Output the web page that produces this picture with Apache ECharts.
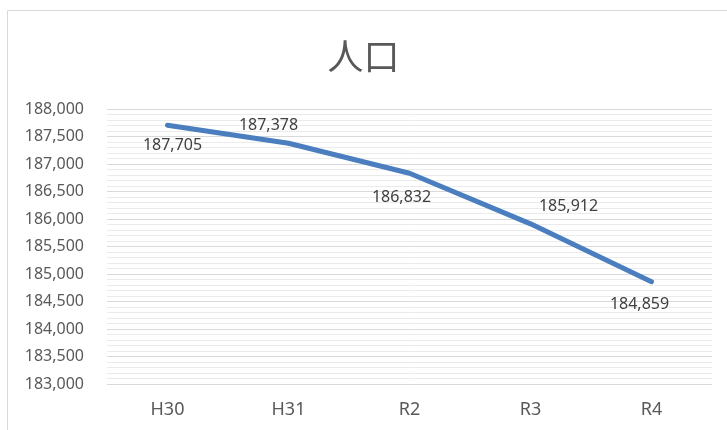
<!DOCTYPE html>
<html>
<head>
<meta charset="utf-8">
<script src="https://cdn.jsdelivr.net/npm/echarts@6/dist/echarts.min.js"></script>
<style>
  html, body { margin: 0; padding: 0; background: #fff; }
  #chart { width: 727px; height: 430px; }
</style>
</head>
<body>
<div id="chart"></div>
<script>
const years = ['H30', 'H31', 'R2', 'R3', 'R4'];
const population = [187705, 187378, 186832, 185912, 184859];
// label offsets per point (x, y), as the labels sit in the picture
const labelOffsets = [[5, 20], [-20, -18], [-8, 24], [38, -17], [-12, 23]];

const chart = echarts.init(document.getElementById('chart'));
const fmt = v => v.toLocaleString('en-US');

chart.setOption({
  animation: false,
  title: {
    text: '人口',
    left: 'center',
    top: 33,
    textStyle: { fontFamily: 'Noto Sans CJK JP', fontSize: 36, fontWeight: 'normal', color: '#595959' }
  },
  graphic: [{
    type: 'rect',
    shape: { x: 7.5, y: 10.5, width: 740, height: 440 },
    style: { fill: 'none', stroke: '#d9d9d9', lineWidth: 1 }
  }],
  grid: { left: 107, right: 15, top: 109, bottom: 46 },
  xAxis: {
    type: 'category',
    data: years,
    axisLine: { show: false },
    axisTick: { show: false },
    axisLabel: { color: '#595959', fontSize: 18, margin: 17, fontFamily: 'Noto Sans' }
  },
  yAxis: {
    type: 'value',
    min: 183000,
    max: 188000,
    interval: 500,
    axisLine: { show: false },
    axisTick: { show: false },
    axisLabel: { color: '#595959', fontSize: 16, margin: 23, formatter: fmt, fontFamily: 'Noto Sans' },
    splitLine: { lineStyle: { color: '#d9d9d9', width: 1 } },
    minorTick: { show: false, splitNumber: 5 },
    minorSplitLine: { show: true, lineStyle: { color: '#ebebeb', width: 1 } }
  },
  series: [{
    type: 'line',
    data: population.map((v, i) => ({
      value: v,
      label: { offset: labelOffsets[i] }
    })),
    symbol: 'circle',
    symbolSize: 2,
    itemStyle: { color: '#4a7ebf' },
    lineStyle: { color: '#4a7ebf', width: 5, cap: 'round', join: 'round' },
    label: {
      show: true,
      position: 'inside',
      formatter: p => fmt(p.value),
      color: '#404040',
      fontSize: 16,
      fontFamily: 'Noto Sans'
    }
  }]
});
</script>
</body>
</html>
